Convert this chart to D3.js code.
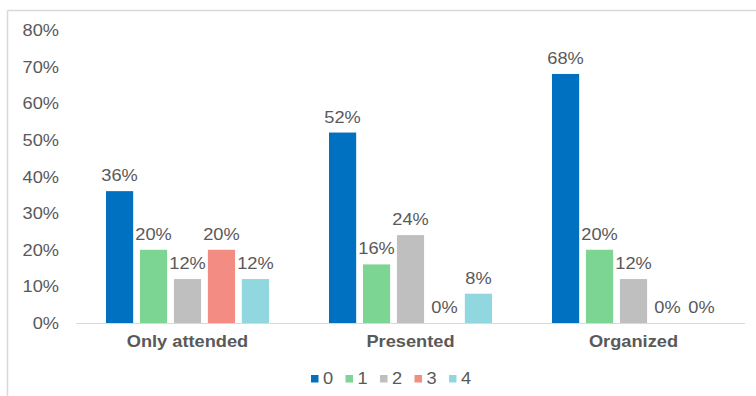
<!DOCTYPE html>
<html>
<head>
<meta charset="utf-8">
<script src="https://cdn.jsdelivr.net/npm/d3@7"></script>
<style>
  html, body { margin: 0; padding: 0; background: #fff; }
  svg { display: block; }
  text { font-family: "Liberation Sans", Arial, sans-serif; fill: #595959; }
</style>
</head>
<body>
<svg id="chart" width="756" height="396"></svg>
<script>
// Participation groups and the share of each count (0–4)
const categories = ["Only attended", "Presented", "Organized"];
const seriesNames = ["0", "1", "2", "3", "4"];
const values0 = [0.36, 0.52, 0.68];
const values1 = [0.20, 0.16, 0.20];
const values2 = [0.12, 0.24, 0.12];
const values3 = [0.20, 0.00, 0.00];
const values4 = [0.12, 0.08, 0.00];
const yTicks = [0, 0.1, 0.2, 0.3, 0.4, 0.5, 0.6, 0.7, 0.8];

const seriesValues = [values0, values1, values2, values3, values4];
const colors = ["#0070C0", "#7CD592", "#BFBFBF", "#F38C83", "#90D7DF"];

const svg = d3.select("#chart");
const sx = 1.14; // horizontal text stretch

function label(sel, x, y, txt, anchor, size, weight) {
  return sel.append("text")
    .attr("transform", `translate(${x},${y}) scale(${sx},1)`)
    .attr("text-anchor", anchor)
    .style("font-size", size + "px")
    .style("font-weight", weight || "normal")
    .text(txt);
}

// outer frame
svg.append("line").attr("x1", 7.5).attr("x2", 756).attr("y1", 10.5).attr("y2", 10.5)
  .attr("stroke", "#D9D9D9").attr("stroke-width", 1.5);
svg.append("line").attr("x1", 7.5).attr("x2", 7.5).attr("y1", 10.5).attr("y2", 396)
  .attr("stroke", "#D9D9D9").attr("stroke-width", 1.5);

const x0 = d3.scaleBand().domain(categories).range([76, 745]).padding(0);
const y = d3.scaleLinear().domain([0, 0.8]).range([323, 30]);
const outer = 30;
const x1 = d3.scaleBand().domain(seriesNames)
  .range([0, x0.bandwidth() - 2 * outer]).paddingInner(0.2).paddingOuter(0);

const fmt = d3.format(".0%");

// y tick labels
yTicks.forEach(t => label(svg, 59, y(t) + 6, fmt(t), "end", 16));

// bars and value labels
categories.forEach((c, ci) => {
  const g = svg.append("g").attr("transform", `translate(${x0(c) + outer},0)`);
  seriesNames.forEach((s, si) => {
    const v = seriesValues[si][ci];
    if (v > 0) {
      g.append("rect")
        .attr("x", x1(s)).attr("width", x1.bandwidth())
        .attr("y", y(v)).attr("height", y(0) - y(v))
        .attr("fill", colors[si]);
    }
    label(g, x1(s) + x1.bandwidth() / 2, y(v) - 10, fmt(v), "middle", 16);
  });
});

// baseline
svg.append("line").attr("x1", 76).attr("x2", 745).attr("y1", y(0) + 0.5).attr("y2", y(0) + 0.5)
  .attr("stroke", "#D9D9D9").attr("stroke-width", 1.2);

// category labels
categories.forEach(c => label(svg, x0(c) + x0.bandwidth() / 2, 347, c, "middle", 16, "bold"));

// legend
const legendX = d3.scalePoint().domain(seriesNames).range([311, 449]);
seriesNames.forEach((s, i) => {
  svg.append("rect").attr("x", legendX(s)).attr("y", 375).attr("width", 7.5).attr("height", 7.5)
    .attr("fill", colors[i]);
  label(svg, legendX(s) + 12, 384, s, "start", 16);
});
</script>
</body>
</html>
